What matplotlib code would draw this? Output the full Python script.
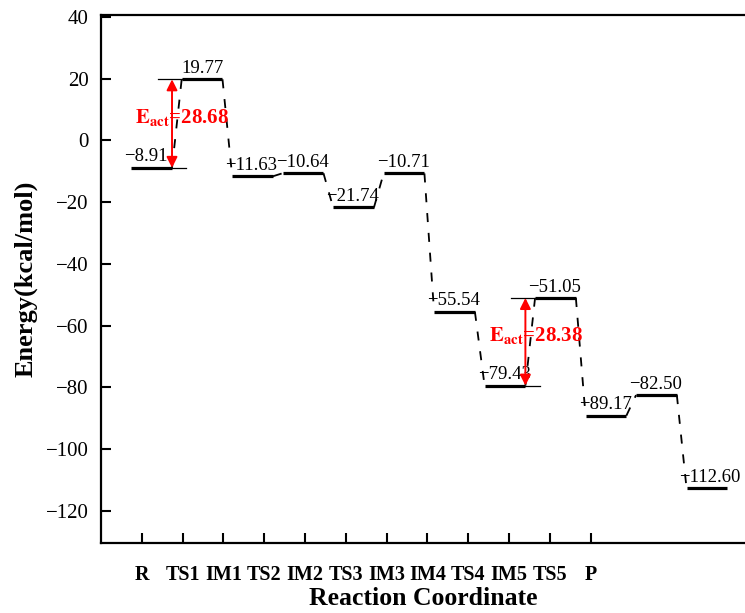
import matplotlib
matplotlib.use('Agg')
import matplotlib.pyplot as plt

# energy profile data
states = ['R', 'TS1', 'IM1', 'TS2', 'IM2', 'TS3', 'IM3', 'IM4', 'TS4', 'IM5', 'TS5', 'P']
energies = [-8.91, 19.77, -11.63, -10.64, -21.74, -10.71, -55.54, -79.43, -51.05, -89.17, -82.50, -112.60]
yticks = [40, 20, 0, -20, -40, -60, -80, -100, -120]
# activation barriers: (index of lower state, index of upper state, label value)
barriers = [(0, 1, 28.68), (7, 8, 28.38)]

plt.rcParams['font.family'] = ['Liberation Serif', 'DejaVu Serif']
plt.rcParams['mathtext.fontset'] = 'stix'

fig = plt.figure(figsize=(7.45, 6.13), dpi=100)
ax = fig.add_axes([101 / 745, 70 / 613, 1 - 101 / 745, (543 - 15) / 613])

# level layout (levels sit on their own spacing, like the origin layer)
x_start, x_step, lvl_w = 0.74, 1.237, 1.0
x0 = [x_start + x_step * i for i in range(len(energies))]
x1 = [x + lvl_w for x in x0]

for i, e in enumerate(energies):
    ax.plot([x0[i], x1[i]], [e, e], color='black', lw=2.3, solid_capstyle='butt')
    txt = f'{e:.2f}'.replace('-', '\u2212')
    ax.text(x0[i] - (0.17 if e < 0 else 0.0), e + 0.8, txt, fontsize=13.5,
            ha='left', va='bottom')
    if i < len(energies) - 1:
        ax.plot([x1[i], x0[i + 1]], [e, energies[i + 1]], color='black', lw=1.3,
                ls=(0, (5, 6)))

for lo, hi, val in barriers:
    xa = x1[lo]
    ax.plot([xa, xa + 0.35], [energies[lo]] * 2, color='black', lw=0.9)
    ax.plot([xa - 0.35, x0[hi]], [energies[hi]] * 2, color='black', lw=0.9)
    ax.annotate('', xy=(xa, energies[hi]), xytext=(xa, energies[lo]),
                arrowprops=dict(arrowstyle='<|-|>', color='red', lw=1.4,
                                mutation_scale=16, shrinkA=0, shrinkB=0))
    mid = (energies[lo] + energies[hi]) / 2
    ax.text(xa - 0.9, mid + 2.0, r'$\mathbf{E_{act}}$' + f'={val:.2f}', color='red',
            fontsize=15, fontweight='bold', ha='left', va='center')

ax.set_xlim(0, 15.78)
ax.set_ylim(-130.4, 40.6)
ax.set_xticks(range(1, len(states) + 1))
ax.set_xticklabels(states, fontsize=14.5, fontweight='bold')
ax.set_yticks(yticks)
ax.set_yticklabels([str(t).replace('-', '\u2212') for t in yticks], fontsize=15)
ax.tick_params(direction='in', length=7, width=1.5)
ax.tick_params(axis='x', pad=16)
ax.tick_params(axis='y', pad=9)
for s in ['left', 'bottom', 'top']:
    ax.spines[s].set_linewidth(1.6)
ax.spines['right'].set_visible(False)

ax.set_xlabel('Reaction Coordinate', fontsize=18.5, fontweight='bold', labelpad=1)
ax.set_ylabel('Energy(kcal/mol)', fontsize=19, fontweight='bold', labelpad=6)

fig.savefig('out.png', dpi=100)
